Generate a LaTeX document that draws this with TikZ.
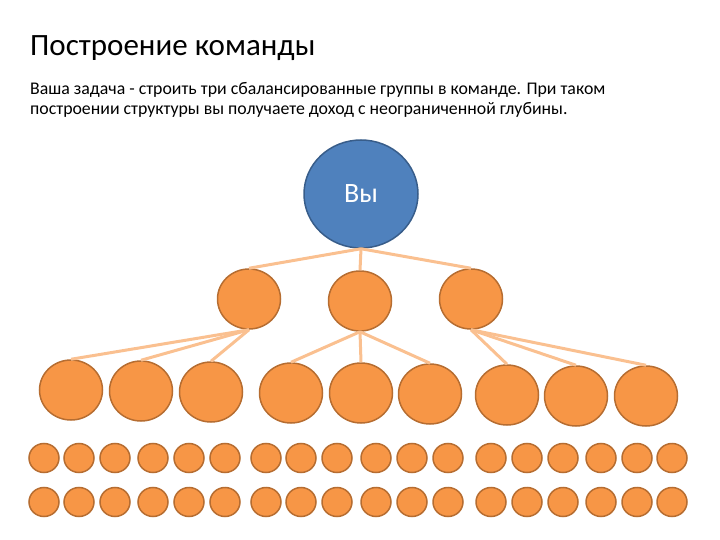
\documentclass[tikz,border=0pt]{standalone}
\usepackage{fontspec}
\setmainfont{Carlito}
\usetikzlibrary{shapes.geometric}

\definecolor{youblue}{HTML}{4F81BD}
\definecolor{youedge}{HTML}{385D8A}
\definecolor{teamfill}{HTML}{F79646}
\definecolor{teamedge}{HTML}{B66D31}
\definecolor{linkcol}{HTML}{FAC090}

\begin{document}
\begin{tikzpicture}[x=1pt,y=-1pt]
  \tikzstyle{you}   =[ellipse,draw=youedge,fill=youblue,line width=1.5pt,inner sep=0pt,
                      minimum width=114pt,minimum height=108pt,text=white,font=\fontsize{28}{30}\selectfont]
  \tikzstyle{member}=[ellipse,draw=teamedge,fill=teamfill,line width=1.5pt,inner sep=0pt]
  \tikzstyle{big}   =[member,minimum width=63pt,minimum height=60pt]
  \tikzstyle{small} =[member,minimum width=30pt,minimum height=29pt]
  \tikzstyle{link}  =[draw=linkcol,line width=3pt]
  \useasboundingbox (0,0) rectangle (720,540);
  % title and text
  \node[anchor=base west,inner sep=0pt,font=\fontsize{31}{34}\selectfont](title) at (30,56) {Построение команды};
  \node[anchor=base west,inner sep=0pt,align=left,font=\fontsize{17.8}{20}\selectfont](intro) at (30,115)
    {Ваша задача - строить три сбалансированные группы в команде. При таком\\
     построении структуры вы получаете доход с неограниченной глубины.};
  % levels
  \node[you](you) at (361,194) {Вы};
  \node[big](g1) at (249,299) {};
  \node[big](g2) at (360,301) {};
  \node[big](g3) at (471,299) {};
  \node[big](m1) at ( 71,390) {};
  \node[big](m2) at (141,391) {};
  \node[big](m3) at (211,392) {};
  \node[big](m4) at (291,393) {};
  \node[big](m5) at (361,393) {};
  \node[big](m6) at (430,394) {};
  \node[big](m7) at (507,395) {};
  \node[big](m8) at (576,396) {};
  \node[big](m9) at (646,396) {};
  \foreach \i/\x in {1/44,2/79,3/115,4/153,5/189,6/225,7/266,8/301,9/337,
                     10/376,11/412,12/448,13/491,14/527,15/563,16/601,17/637,18/672}{
    \node[small](d\i) at (\x,458) {};
    \node[small](e\i) at (\x,502) {};
  }
  % links
  \draw[link] (you.south) -- (g1.north);
  \draw[link] (you.south) -- (g2.north);
  \draw[link] (you.south) -- (g3.north);
  \draw[link] (g1.south) -- (m1.north);
  \draw[link] (g1.south) -- (m2.north);
  \draw[link] (g1.south) -- (m3.north);
  \draw[link] (g2.south) -- (m4.north);
  \draw[link] (g2.south) -- (m5.north);
  \draw[link] (g2.south) -- (m6.north);
  \draw[link] (g3.south) -- (m7.north);
  \draw[link] (g3.south) -- (m8.north);
  \draw[link] (g3.south) -- (m9.north);
\end{tikzpicture}
\end{document}
